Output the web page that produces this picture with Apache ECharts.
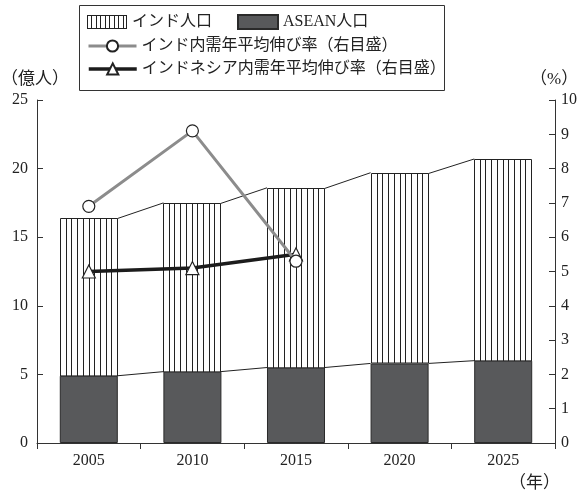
<!DOCTYPE html>
<html>
<head>
<meta charset="utf-8">
<script src="https://cdn.jsdelivr.net/npm/echarts@6/dist/echarts.min.js"></script>
<style>
html,body{margin:0;padding:0;background:#fff;}
#chart{width:582px;height:493px;}
</style>
</head>
<body>
<div id="chart"></div>
<script>
// Years on the category axis
const years = ['2005', '2010', '2015', '2020', '2025'];
// Population, 100 million people (stacked: ASEAN at the bottom, India on top)
const aseanPop = [4.9, 5.2, 5.5, 5.8, 6.0];
const indiaPop = [11.5, 12.3, 13.1, 13.9, 14.7];
// Annual average growth of domestic demand, % (right axis)
const indiaDemand = [6.9, 9.1, 5.3, '-', '-'];
const indonesiaDemand = [5.0, 5.1, 5.5, '-', '-'];

const SERIF = '"Liberation Serif", "DejaVu Serif", "Noto Sans CJK JP", serif';
const INK = '#222';
const BAR_RATIO = 0.56;

// Hatched swatch used as the legend icon for the India bars
function hatchIcon() {
  const c = document.createElement('canvas');
  c.width = 40; c.height = 14;
  const g = c.getContext('2d');
  g.fillStyle = '#fff';
  g.fillRect(0, 0, 40, 14);
  g.strokeStyle = INK;
  g.lineWidth = 1;
  for (let k = 1; k < 9; k++) {
    const x = Math.round(k * 40 / 9) + 0.5;
    g.beginPath(); g.moveTo(x, 0); g.lineTo(x, 14); g.stroke();
  }
  g.strokeRect(0.5, 0.5, 39, 13);
  return 'image://' + c.toDataURL();
}

// India segment: outlined rect with vertical hatching, plus thin connectors
// from each stack's top corners to the next stack
function renderIndia(params, api) {
  const i = params.dataIndex;
  const base = api.value(1);
  const top = base + api.value(2);
  const catW = api.size([1, 0])[0];
  const hw = catW * BAR_RATIO / 2;
  const pTop = api.coord([i, top]);
  const pBase = api.coord([i, base]);
  const x0 = Math.round(pTop[0] - hw) + 0.5;
  const x1 = Math.round(pTop[0] + hw) - 0.5;
  const yT = Math.round(pTop[1]) + 0.5;
  const yB = Math.round(pBase[1]);
  const children = [{
    type: 'rect',
    shape: { x: x0, y: yT, width: x1 - x0, height: yB - yT },
    style: { fill: '#fff', stroke: INK, lineWidth: 1 }
  }];
  const n = 10;
  for (let k = 1; k < n; k++) {
    const x = Math.round(x0 + (x1 - x0) * k / n - 0.5) + 0.5;
    children.push({
      type: 'line',
      shape: { x1: x, y1: yT, x2: x, y2: yB },
      style: { stroke: INK, lineWidth: 1 }
    });
  }
  if (i + 1 < years.length) {
    const nTop = api.coord([i + 1, aseanPop[i + 1] + indiaPop[i + 1]]);
    const nBase = api.coord([i + 1, aseanPop[i + 1]]);
    children.push({
      type: 'line',
      shape: { x1: x1, y1: yT, x2: nTop[0] - hw, y2: nTop[1] },
      style: { stroke: INK, lineWidth: 1 }
    });
    children.push({
      type: 'line',
      shape: { x1: x1, y1: pBase[1], x2: nBase[0] - hw, y2: nBase[1] },
      style: { stroke: INK, lineWidth: 1 }
    });
  }
  return { type: 'group', children: children };
}

const chart = echarts.init(document.getElementById('chart'), null, { renderer: 'canvas' });

const legendText = { color: INK, fontSize: 16, fontFamily: SERIF, lineHeight: 16 };

const option = {
  animation: false,
  backgroundColor: '#fff',
  grid: { left: 37, right: 27, top: 100, bottom: 50 },
  legend: [
    {
      left: 87, top: 14, padding: 0, itemGap: 25,
      itemWidth: 40, itemHeight: 14,
      textStyle: legendText,
      selectedMode: false,
      data: [
        { name: 'インド人口', icon: hatchIcon() },
        { name: 'ASEAN人口', icon: 'rect' }
      ]
    },
    {
      left: 87, top: 38, padding: 0,
      itemWidth: 48, itemHeight: 14,
      textStyle: legendText,
      lineStyle: { width: 'inherit' },
      selectedMode: false,
      data: ['インド内需年平均伸び率（右目盛）']
    },
    {
      left: 87, top: 61, padding: 0,
      itemWidth: 48, itemHeight: 14,
      textStyle: legendText,
      lineStyle: { width: 'inherit' },
      selectedMode: false,
      data: ['インドネシア内需年平均伸び率（右目盛）']
    }
  ],
  graphic: [
    {
      type: 'rect', z: 100,
      shape: { x: 79.5, y: 5.5, width: 365, height: 85 },
      style: { fill: 'none', stroke: '#333', lineWidth: 1 }
    },
    {
      type: 'text', left: 1, top: 71,
      style: { text: '（億人）', font: '17px ' + SERIF, fill: INK }
    },
    {
      type: 'text', left: 530, top: 71,
      style: { text: '（%）', font: '17px ' + SERIF, fill: INK }
    },
    {
      type: 'text', left: 509, top: 475,
      style: { text: '（年）', font: '17px ' + SERIF, fill: INK }
    }
  ],
  xAxis: {
    type: 'category',
    data: years,
    boundaryGap: true,
    axisLine: { lineStyle: { color: '#333', width: 1 } },
    axisTick: { show: true, length: 6, lineStyle: { color: '#333' } },
    axisLabel: { color: INK, fontSize: 16, fontFamily: SERIF, margin: 10 },
    splitLine: { show: false }
  },
  yAxis: [
    {
      type: 'value', min: 0, max: 25, interval: 5,
      axisLine: { show: true, lineStyle: { color: '#333', width: 1 } },
      axisTick: { show: true, inside: true, length: 6, lineStyle: { color: '#333' } },
      axisLabel: { color: INK, fontSize: 16, fontFamily: SERIF, margin: 9 },
      splitLine: { show: false }
    },
    {
      type: 'value', min: 0, max: 10, interval: 1, position: 'right',
      axisLine: { show: true, lineStyle: { color: '#333', width: 1 } },
      axisTick: { show: true, inside: true, length: 6, lineStyle: { color: '#333' } },
      axisLabel: { color: INK, fontSize: 16, fontFamily: SERIF, margin: 6 },
      splitLine: { show: false }
    }
  ],
  series: [
    {
      name: 'ASEAN人口',
      type: 'bar',
      data: aseanPop,
      barWidth: (BAR_RATIO * 100) + '%',
      itemStyle: { color: '#58595b', borderColor: '#2a2a2a', borderWidth: 1 },
      z: 3
    },
    {
      name: 'インド人口',
      type: 'custom',
      data: years.map((y, i) => [i, aseanPop[i], indiaPop[i]]),
      encode: { x: 0, y: [1, 2] },
      renderItem: renderIndia,
      itemStyle: { color: '#fff', borderColor: INK },
      z: 2
    },
    {
      name: 'インドネシア内需年平均伸び率（右目盛）',
      type: 'line',
      yAxisIndex: 1,
      data: indonesiaDemand,
      symbol: 'triangle',
      symbolSize: 13,
      showAllSymbol: true,
      lineStyle: { color: '#1c1c1c', width: 3.5 },
      itemStyle: { color: '#fff', borderColor: '#222', borderWidth: 1.2 },
      z: 5
    },
    {
      name: 'インド内需年平均伸び率（右目盛）',
      type: 'line',
      yAxisIndex: 1,
      data: indiaDemand,
      symbol: 'circle',
      symbolSize: 12,
      showAllSymbol: true,
      lineStyle: { color: '#8c8c8c', width: 3 },
      itemStyle: { color: '#fff', borderColor: '#222', borderWidth: 1.2 },
      z: 6
    }
  ]
};

chart.setOption(option);
</script>
</body>
</html>
